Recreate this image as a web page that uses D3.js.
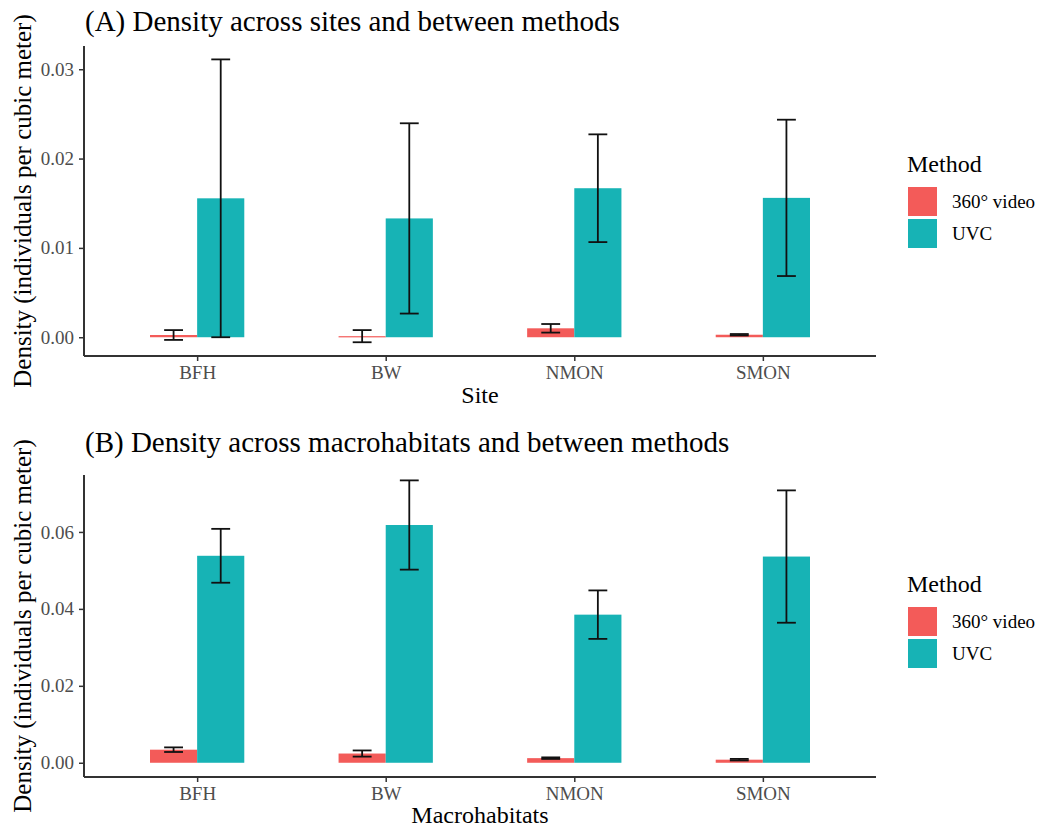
<!DOCTYPE html>
<html>
<head>
<meta charset="utf-8">
<script src="https://cdn.jsdelivr.net/npm/d3@7"></script>
<style>
  body { margin: 0; background: #ffffff; }
  svg text { font-family: "Liberation Serif", "Times New Roman", serif; }
</style>
</head>
<body>
<div id="chart"></div>
<script>
// Data
const methods      = ['360° video', 'UVC'];
const methodColors = ['#F35B59', '#17B3B5'];

const sites      = ['BFH', 'BW', 'NMON', 'SMON'];
const siteVideo  = [0.00025, 0.00012, 0.00100, 0.00028];
const siteVideoE = [0.00055, 0.00068, 0.00048, 0.00008];
const siteUvc    = [0.01555, 0.01330, 0.01668, 0.01560];
const siteUvcE   = [0.01555, 0.01065, 0.00603, 0.00875];
const siteTicks  = [0, 0.01, 0.02, 0.03];
const siteDomain = [-0.0021, 0.0326];

const habitats      = ['BFH', 'BW', 'NMON', 'SMON'];
const habitatVideo  = [0.00340, 0.00240, 0.00120, 0.00080];
const habitatVideoE = [0.00060, 0.00080, 0.00020, 0.00020];
const habitatUvc    = [0.05380, 0.06180, 0.03850, 0.05360];
const habitatUvcE   = [0.00700, 0.01160, 0.00630, 0.01720];
const habitatTicks  = [0, 0.02, 0.04, 0.06];
const habitatDomain = [-0.0037, 0.0748];

const widthContainer  = 1039;
const heightContainer = 828;

let svg = d3.select('#chart')
  .append('svg')
  .attr('width',  widthContainer)
  .attr('height', heightContainer);

function drawPanel(opt) {
  let xScale = d3.scalePoint()
    .domain(opt.categories)
    .range([opt.left, opt.right])
    .padding(0.6);
  const step = xScale.step();

  let yScale = d3.scaleLinear()
    .domain(opt.domain)
    .range([opt.bottom, opt.top]);

  let rows = [];
  opt.categories.forEach((c, i) => {
    rows.push({cat: c, m: 0, value: opt.video[i], err: opt.videoErr[i]});
    rows.push({cat: c, m: 1, value: opt.uvc[i],   err: opt.uvcErr[i]});
  });
  const barW = 0.25 * step;
  const xCenter = d => xScale(d.cat) + (d.m === 0 ? -barW / 2 : barW / 2);

  // Bars
  svg.append('g').selectAll('rect')
    .data(rows)
    .enter()
    .append('rect')
    .attr('x',      d => xCenter(d) - barW / 2)
    .attr('width',  barW)
    .attr('y',      d => yScale(Math.max(0, d.value)))
    .attr('height', d => Math.max(1.2, Math.abs(yScale(0) - yScale(d.value))))
    .style('fill',  d => methodColors[d.m]);

  // Error bars
  const capW = 0.1 * step;
  let err = svg.append('g')
    .style('stroke', '#111111')
    .style('stroke-width', 1.8)
    .selectAll('g')
    .data(rows)
    .enter()
    .append('g');
  err.append('line')
    .attr('x1', xCenter).attr('x2', xCenter)
    .attr('y1', d => yScale(d.value + d.err))
    .attr('y2', d => yScale(d.value - d.err));
  err.append('line')
    .attr('x1', d => xCenter(d) - capW / 2).attr('x2', d => xCenter(d) + capW / 2)
    .attr('y1', d => yScale(d.value + d.err)).attr('y2', d => yScale(d.value + d.err));
  err.append('line')
    .attr('x1', d => xCenter(d) - capW / 2).attr('x2', d => xCenter(d) + capW / 2)
    .attr('y1', d => yScale(d.value - d.err)).attr('y2', d => yScale(d.value - d.err));

  // x-axis
  let xAxis = svg.append('g')
    .attr('transform', `translate(0, ${opt.bottom})`)
    .call(d3.axisBottom(xScale).tickSize(5).tickPadding(5).tickSizeOuter(0));
  xAxis.select('.domain').attr('d', `M${opt.left},0H${opt.right}`);

  // y-axis
  let yAxis = svg.append('g')
    .attr('transform', `translate(${opt.left}, 0)`)
    .call(d3.axisLeft(yScale).tickValues(opt.ticks).tickFormat(d3.format('.2f'))
      .tickSize(5).tickPadding(5).tickSizeOuter(0));
  yAxis.select('.domain').attr('d', `M0,${opt.top}V${opt.bottom}`);

  [xAxis, yAxis].forEach(ax => {
    ax.select('.domain').style('stroke', '#333333').style('stroke-width', 2);
    ax.selectAll('.tick line').style('stroke', '#333333').style('stroke-width', 1.5);
    ax.selectAll('.tick text')
      .style('font-size', '19px')
      .style('font-family', '"Liberation Serif", serif')
      .style('fill', '#4D4D4D');
  });

  // Titles
  svg.append('text')
    .attr('x', opt.left + 1)
    .attr('y', opt.titleY)
    .style('font-size', '29px')
    .style('fill', '#000000')
    .text(opt.title);

  svg.append('text')
    .attr('x', (opt.left + opt.right) / 2)
    .attr('y', opt.xLabelY)
    .style('text-anchor', 'middle')
    .style('font-size', '24px')
    .text(opt.xLabel);

  svg.append('text')
    .attr('transform', `translate(31, ${(opt.top + opt.bottom) / 2}) rotate(-90)`)
    .style('text-anchor', 'middle')
    .style('font-size', '25px')
    .text('Density (individuals per cubic meter)');

  // Legend
  let legend = svg.append('g')
    .attr('transform', `translate(907, ${opt.legendY})`);
  legend.append('text')
    .attr('x', 0)
    .attr('y', 0)
    .style('font-size', '24px')
    .text('Method');
  methods.forEach((m, i) => {
    legend.append('rect')
      .attr('x', 1)
      .attr('y', 15 + i * 32)
      .attr('width',  29)
      .attr('height', 29)
      .style('fill', methodColors[i]);
    legend.append('text')
      .attr('x', 45)
      .attr('y', 15 + i * 32 + 21)
      .style('font-size', '19px')
      .text(m);
  });
}

drawPanel({
  categories: sites, video: siteVideo, videoErr: siteVideoE, uvc: siteUvc, uvcErr: siteUvcE,
  ticks: siteTicks, domain: siteDomain,
  left: 84, right: 876, top: 46, bottom: 356,
  title: '(A) Density across sites and between methods', titleY: 31,
  xLabel: 'Site', xLabelY: 403, legendY: 172
});

drawPanel({
  categories: habitats, video: habitatVideo, videoErr: habitatVideoE, uvc: habitatUvc, uvcErr: habitatUvcE,
  ticks: habitatTicks, domain: habitatDomain,
  left: 84, right: 876, top: 475, bottom: 777,
  title: '(B) Density across macrohabitats and between methods', titleY: 452,
  xLabel: 'Macrohabitats', xLabelY: 823, legendY: 592
});
</script>
</body>
</html>
